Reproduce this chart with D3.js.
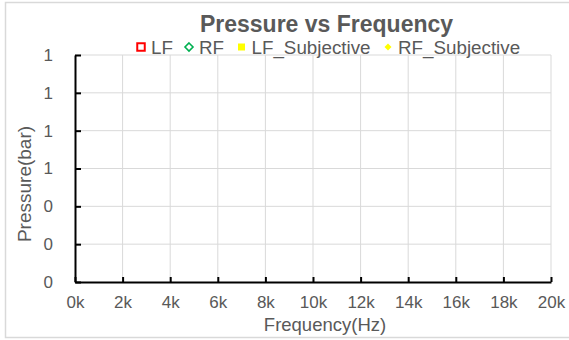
<!DOCTYPE html>
<html>
<head>
<meta charset="utf-8">
<script src="https://cdn.jsdelivr.net/npm/d3@7"></script>
<style>
html,body{margin:0;padding:0;background:#fff;}
svg{display:block;font-family:"Liberation Sans",Arial,sans-serif;}
</style>
</head>
<body>
<svg id="chart" width="569" height="340"></svg>
<script>
// ---- data ----
const title = "Pressure vs Frequency";
const xLabel = "Frequency(Hz)";
const yLabel = "Pressure(bar)";
const seriesNames = ["LF", "RF", "LF_Subjective", "RF_Subjective"];
const seriesColors = ["#ff0000", "#00b050", "#ffff00", "#ffff00"];
const seriesShapes = ["squareOpen", "diamondOpen", "square", "diamond"];
// series values (frequency Hz, pressure bar) — the chart shows no points
const lfValues = [];
const rfValues = [];
const lfSubjectiveValues = [];
const rfSubjectiveValues = [];
const xTicks = [0, 2000, 4000, 6000, 8000, 10000, 12000, 14000, 16000, 18000, 20000];
const yTicks = [0, 0.2, 0.4, 0.6, 0.8, 1.0, 1.2];

const svg = d3.select("#chart");
const x = d3.scaleLinear().domain([0, 20000]).range([75, 551]);
const y = d3.scaleLinear().domain([0, 1.2]).range([282, 55]);

// outer border
svg.append("rect").attr("x", 5.5).attr("y", 2.5).attr("width", 570).attr("height", 335)
  .attr("fill", "none").attr("stroke", "#d9d9d9").attr("stroke-width", 1.5);

// grid
svg.append("g").selectAll("line").data(xTicks.slice(1)).join("line")
  .attr("x1", d => x(d)).attr("x2", d => x(d)).attr("y1", y(0)).attr("y2", y(1.2))
  .attr("stroke", "#d9d9d9").attr("stroke-width", 1);
svg.append("g").selectAll("line").data(yTicks.slice(1)).join("line")
  .attr("x1", x(0)).attr("x2", x(20000)).attr("y1", d => y(d)).attr("y2", d => y(d))
  .attr("stroke", "#d9d9d9").attr("stroke-width", 1);

// axes
const xAxis = svg.append("g").attr("transform", `translate(0,${y(0)})`)
  .call(d3.axisBottom(x).tickValues(xTicks).tickSizeInner(-5).tickSizeOuter(0).tickPadding(14)
    .tickFormat(d => d3.format("d")(d / 1000) + "k"));
const yAxis = svg.append("g").attr("transform", `translate(${x(0)},0)`)
  .call(d3.axisLeft(y).tickValues(yTicks).tickSizeInner(-6).tickSizeOuter(0).tickPadding(22)
    .tickFormat(d3.format(".0f")));
[xAxis, yAxis].forEach(g => {
  g.select(".domain").attr("stroke", "#000").attr("stroke-width", 2);
  g.selectAll(".tick line").attr("stroke", "#000").attr("stroke-width", 2);
  g.selectAll(".tick text").attr("fill", "#595959").attr("font-size", 17)
    .attr("font-family", "Liberation Sans, Arial, sans-serif");
});

// data points (none in this chart)
const allSeries = [lfValues, rfValues, lfSubjectiveValues, rfSubjectiveValues];
const diamondPath = r => `M0,${-r}L${r},0L0,${r}L${-r},0Z`;
allSeries.forEach((vals, i) => {
  const open = seriesShapes[i].endsWith("Open");
  svg.append("g").selectAll("path").data(vals).join("path")
    .attr("transform", d => `translate(${x(d[0])},${y(d[1])})`)
    .attr("d", seriesShapes[i].startsWith("square") ? d3.symbol().type(d3.symbolSquare).size(50)() : diamondPath(4))
    .attr("fill", open ? "none" : seriesColors[i])
    .attr("stroke", open ? seriesColors[i] : "none")
    .attr("stroke-width", 2);
});

// title
svg.append("text").attr("x", 326.5).attr("y", 32).attr("text-anchor", "middle")
  .attr("font-size", 23).attr("font-weight", "bold").attr("fill", "#595959").text(title);

// legend
const legendX = [141, 189, 241.5, 388];
const legendY = 47;
const lg = svg.append("g");
seriesNames.forEach((name, i) => {
  const shape = seriesShapes[i];
  const open = shape.endsWith("Open");
  if (shape.startsWith("square")) {
    const s = open ? 7.5 : 7;
    lg.append("rect").attr("x", legendX[i] - s / 2).attr("y", legendY - s / 2)
      .attr("width", s).attr("height", s)
      .attr("fill", open ? "none" : seriesColors[i])
      .attr("stroke", open ? seriesColors[i] : "none").attr("stroke-width", 2);
  } else {
    lg.append("path").attr("transform", `translate(${legendX[i]},${legendY})`)
      .attr("d", diamondPath(open ? 4 : 3.5))
      .attr("fill", open ? "#fff" : seriesColors[i])
      .attr("stroke", open ? seriesColors[i] : "none").attr("stroke-width", 1.6);
  }
  lg.append("text").attr("x", legendX[i] + 10).attr("y", legendY + 6.5)
    .attr("font-size", 18.8).attr("fill", "#595959").text(name);
});

// axis titles
svg.append("text").attr("x", 325).attr("y", 331).attr("text-anchor", "middle")
  .attr("font-size", 18.5).attr("fill", "#595959").text(xLabel);
svg.append("text").attr("transform", `translate(31,184) rotate(-90)`).attr("text-anchor", "middle")
  .attr("font-size", 19).attr("fill", "#595959").text(yLabel);
</script>
</body>
</html>
